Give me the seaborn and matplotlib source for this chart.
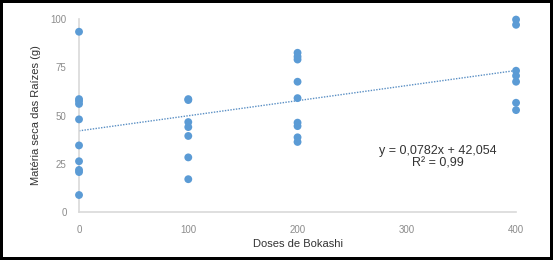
import numpy as np
import pandas as pd
import matplotlib
matplotlib.use("Agg")
import matplotlib.pyplot as plt
import seaborn as sns

# data
dose_0 = [93.4, 58.5, 57.5, 56.0, 48.0, 34.5, 26.3, 21.8, 20.7, 8.8]
dose_100 = [58.5, 58.0, 46.6, 44.0, 39.4, 28.3, 17.0]
dose_200 = [82.5, 80.5, 79.0, 67.5, 59.0, 46.3, 44.5, 38.7, 36.3]
dose_400 = [99.7, 97.0, 73.2, 70.6, 67.5, 56.6, 52.8]
doses = [0, 100, 200, 400]

# trend line given on the chart
slope = 0.0782
intercept = 42.054
trend_x = [0, 400]
x_ticks = [0, 100, 200, 300, 400]
y_ticks = [0, 25, 50, 75, 100]

rows = []
for d, vals in zip(doses, [dose_0, dose_100, dose_200, dose_400]):
    for v in vals:
        rows.append({"dose": d, "massa": v})
df = pd.DataFrame(rows)
trend = pd.DataFrame({"dose": trend_x, "massa": [intercept + slope * x for x in trend_x]})

sns.set_style("white")
plt.rcParams['font.family'] = ['Liberation Sans', 'DejaVu Sans']

fig = plt.figure(figsize=(5.53, 2.60), dpi=100)
fig.patch.set_edgecolor("black")
fig.patch.set_linewidth(4)
ax = fig.add_axes([0.1429, 0.1846, 0.7903, 0.7423])

sns.lineplot(data=trend, x="dose", y="massa", ax=ax, color="#5A8FC4",
             linestyle=(0, (1, 1)), linewidth=1.0)
sns.scatterplot(data=df, x="dose", y="massa", ax=ax, color="#5B9BD5",
                s=32, edgecolor="none", clip_on=False, zorder=3)

ax.set_xlim(0, 400)
ax.set_ylim(0, 100)
ax.set_xticks(x_ticks)
ax.set_yticks(y_ticks)
ax.tick_params(axis="both", length=0, labelsize=7, labelcolor="#8C8C8C", pad=9)
for s in ["top", "right"]:
    ax.spines[s].set_visible(False)
for s in ["left", "bottom"]:
    ax.spines[s].set_color("#D9D9D9")
    ax.spines[s].set_linewidth(1.2)

ax.set_xlabel("Doses de Bokashi", fontsize=8, color="#333333", labelpad=3)
ax.set_ylabel("Matéria seca das Raízes (g)", fontsize=8, color="#333333", labelpad=7)

ax.text(328, 28.5, "y = 0,0782x + 42,054\nR² = 0,99", ha="center", va="center",
        fontsize=9, color="#333333", linespacing=1.05)

fig.savefig("out.png", dpi=100)
